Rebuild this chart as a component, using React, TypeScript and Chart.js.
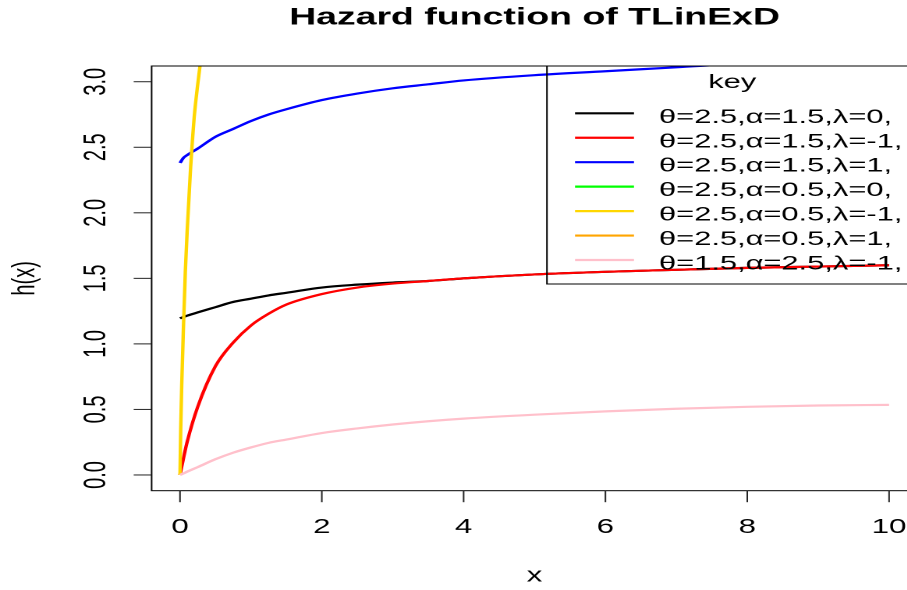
import React, { useEffect, useRef } from "react";
import { Chart, registerables } from "chart.js";

Chart.register(...registerables);

// ---------------- data ----------------
const TITLE = "Hazard function of TLinExD";
const X_TITLE = "x";
const Y_TITLE = "h(x)";
const LEGEND_TITLE = "key";

const X_TICKS = [0, 2, 4, 6, 8, 10];
const Y_TICKS = [0, 0.5, 1, 1.5, 2, 2.5, 3];
const Y_TICK_LABELS = ["0.0", "0.5", "1.0", "1.5", "2.0", "2.5", "3.0"];

const XS = [0, 0.05, 0.1, 0.25, 0.5, 0.75, 1, 1.25, 1.5, 2, 2.5, 3, 3.5, 4, 5, 6, 7, 8, 9, 10];

const H_T25_A15_L0 = [1.195, 1.205, 1.215, 1.24, 1.28, 1.32, 1.345, 1.37, 1.39, 1.43, 1.452, 1.468, 1.48, 1.5, 1.53, 1.55, 1.565, 1.58, 1.59, 1.6];
const H_T25_A15_LM1 = [0, 0.13, 0.25, 0.52, 0.83, 1.01, 1.14, 1.23, 1.3, 1.38, 1.43, 1.46, 1.48, 1.5, 1.53, 1.55, 1.565, 1.58, 1.59, 1.6];
const H_T25_A15_L1 = [2.38, 2.42, 2.44, 2.49, 2.58, 2.64, 2.7, 2.75, 2.79, 2.86, 2.91, 2.95, 2.98, 3.01, 3.05, 3.08, 3.11, 3.14, 3.16, 3.18];
const H_T25_A05_L0 = [3.6, 3.62, 3.65, 3.7, 3.8, 3.9, 3.98, 4.05, 4.12, 4.25, 4.35, 4.45, 4.52, 4.6, 4.72, 4.82, 4.9, 4.97, 5.03, 5.08];
const H_T25_A05_L1 = [7.2, 7.24, 7.3, 7.4, 7.6, 7.8, 7.96, 8.1, 8.24, 8.5, 8.7, 8.9, 9.04, 9.2, 9.44, 9.64, 9.8, 9.94, 10.06, 10.16];
const H_T15_A25_LM1 = [0, 0.012, 0.025, 0.06, 0.12, 0.17, 0.21, 0.245, 0.27, 0.32, 0.355, 0.385, 0.41, 0.43, 0.46, 0.485, 0.505, 0.52, 0.53, 0.535];

const YX = [0, 0.01, 0.025, 0.05, 0.075, 0.1, 0.125, 0.15, 0.175, 0.2, 0.25, 0.3, 0.4, 0.6, 1, 2, 4, 7, 10];
const H_T25_A05_LM1 = [0, 0.35, 0.7, 1.15, 1.55, 1.85, 2.1, 2.35, 2.55, 2.73, 2.98, 3.2, 3.55, 4.0, 4.5, 4.9, 5.1, 5.2, 5.25];

const LEGEND_LABELS = [
  "\u03B8=2.5,\u03B1=1.5,\u03BB=0,",
  "\u03B8=2.5,\u03B1=1.5,\u03BB=-1,",
  "\u03B8=2.5,\u03B1=1.5,\u03BB=1,",
  "\u03B8=2.5,\u03B1=0.5,\u03BB=0,",
  "\u03B8=2.5,\u03B1=0.5,\u03BB=-1,",
  "\u03B8=2.5,\u03B1=0.5,\u03BB=1,",
  "\u03B8=1.5,\u03B1=2.5,\u03BB=-1,",
];
const COLORS = ["#000000", "#FF0000", "#0000FF", "#00FF00", "#FFD700", "#FFA500", "#FFC0CB"];

const SERIES: { xs: number[]; ys: number[] }[] = [
  { xs: XS, ys: H_T25_A15_L0 },
  { xs: XS, ys: H_T25_A15_LM1 },
  { xs: XS, ys: H_T25_A15_L1 },
  { xs: XS, ys: H_T25_A05_L0 },
  { xs: YX, ys: H_T25_A05_LM1 },
  { xs: XS, ys: H_T25_A05_L1 },
  { xs: XS, ys: H_T15_A25_LM1 },
];

// ---------------- layout ----------------
const K = 1.56; // horizontal stretch of the reference picture
const LW = 612; // logical canvas width
const H = 590;
const PLOT_LEFT = 97.2;
const PLOT_RIGHT = 588.1;
const PLOT_TOP = 66;
const PLOT_BOTTOM = 490.7;
const FONT = '"Liberation Sans", Arial, Helvetica, sans-serif';

const rPlot = {
  id: "rPlot",
  afterDatasetsDraw(chart: any) {
    const { ctx, chartArea: a, scales } = chart;
    const xs = scales.x;
    const ys = scales.y;
    ctx.save();
    const seg = (x1: number, y1: number, x2: number, y2: number) => {
      ctx.beginPath();
      ctx.moveTo(x1, y1);
      ctx.lineTo(x2, y2);
      ctx.stroke();
    };
    // box
    ctx.strokeStyle = "#000";
    ctx.lineWidth = 1;
    ctx.strokeRect(a.left, a.top, a.right - a.left, a.bottom - a.top);

    // ticks
    ctx.strokeStyle = "#222";
    ctx.fillStyle = "#000";
    ctx.font = `20px ${FONT}`;
    ctx.textAlign = "center";
    ctx.textBaseline = "middle";
    X_TICKS.forEach((v) => {
      const px = xs.getPixelForValue(v);
      seg(px, a.bottom, px, a.bottom + 11.5);
      ctx.fillText(String(v), px, 527.5);
    });
    Y_TICKS.forEach((v, i) => {
      const py = ys.getPixelForValue(v);
      seg(a.left, py, a.left - 11.5, py);
      ctx.save();
      ctx.translate(62, py);
      ctx.rotate(-Math.PI / 2);
      ctx.fillText(Y_TICK_LABELS[i], 0, 0);
      ctx.restore();
    });

    // axis titles
    ctx.fillText(X_TITLE, (a.left + a.right) / 2, 576);
    ctx.save();
    ctx.translate(16.7, (a.top + a.bottom) / 2);
    ctx.rotate(-Math.PI / 2);
    ctx.fillText(Y_TITLE, 0, 0);
    ctx.restore();

    // main title
    ctx.font = `bold 24px ${FONT}`;
    ctx.fillText(TITLE, (a.left + a.right) / 2, 18);

    // legend
    const lx = 350.6;
    const lTop = a.top;
    const lBottom = 284;
    ctx.strokeStyle = "#000";
    ctx.lineWidth = 1;
    ctx.strokeRect(lx, lTop, a.right - lx, lBottom - lTop);
    ctx.font = `19.8px ${FONT}`;
    ctx.textAlign = "center";
    ctx.textBaseline = "alphabetic";
    ctx.fillText(LEGEND_TITLE, (lx + a.right) / 2, 88);
    ctx.textAlign = "left";
    LEGEND_LABELS.forEach((lab, i) => {
      const y = 113.3 + i * 24.45;
      ctx.strokeStyle = COLORS[i];
      ctx.lineWidth = 2.2;
      seg(368.6, y, 406.4, y);
      ctx.fillStyle = "#000";
      ctx.fillText(lab, 422.4, y + 9.5);
    });
    ctx.restore();
  },
};

export default function App() {
  const ref = useRef<HTMLCanvasElement | null>(null);
  useEffect(() => {
    if (!ref.current) return;
    const chart = new Chart(ref.current, {
      type: "scatter",
      data: {
        datasets: SERIES.map((s, i) => ({
          label: LEGEND_LABELS[i],
          data: s.xs.map((x, j) => ({ x, y: s.ys[j] })),
          borderColor: COLORS[i],
          backgroundColor: COLORS[i],
          borderWidth: 2.2,
          showLine: true,
          pointRadius: 0,
          pointHoverRadius: 0,
          cubicInterpolationMode: "monotone" as const,
          clip: 0,
          order: SERIES.length - i,
        })),
      },
      options: {
        responsive: false,
        animation: false,
        devicePixelRatio: 2,
        layout: {
          padding: {
            left: PLOT_LEFT,
            right: LW - PLOT_RIGHT,
            top: PLOT_TOP,
            bottom: H - PLOT_BOTTOM,
          },
        },
        plugins: {
          legend: { display: false },
          title: { display: false },
          tooltip: { enabled: false },
        },
        events: [],
        scales: {
          x: { type: "linear", min: -0.4, max: 10.4, display: false },
          y: { type: "linear", min: -0.12, max: 3.12, display: false },
        },
      },
      plugins: [rPlot],
    });
    return () => chart.destroy();
  }, []);

  return (
    <div
      style={{
        position: "absolute",
        left: 0,
        top: 0,
        width: 907,
        height: H,
        overflow: "hidden",
        background: "#fff",
      }}
    >
      <div style={{ width: LW, height: H, transform: `scaleX(${K})`, transformOrigin: "0 0" }}>
        <canvas ref={ref} width={LW} height={H} style={{ width: LW, height: H, display: "block" }} />
      </div>
    </div>
  );
}
